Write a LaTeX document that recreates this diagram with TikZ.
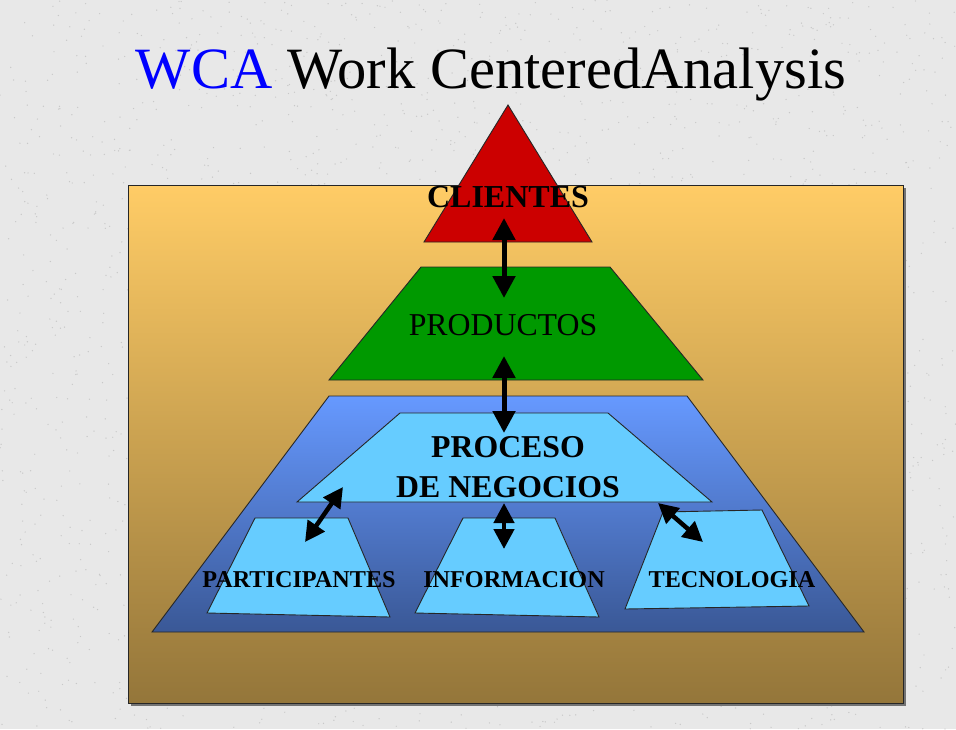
\documentclass[tikz,border=0pt]{standalone}
\usepackage{fontspec}
\setmainfont{Liberation Serif}
\usetikzlibrary{arrows.meta}
\definecolor{bggray}{RGB}{232,232,232}
\definecolor{speck}{RGB}{200,200,200}
\definecolor{orangetop}{RGB}{255,204,102}
\definecolor{orangebot}{RGB}{148,118,58}
\definecolor{bluetop}{RGB}{102,153,255}
\definecolor{bluebot}{RGB}{58,88,150}
\definecolor{lightblue}{RGB}{102,204,255}
\definecolor{redtri}{RGB}{204,0,0}
\definecolor{greentrap}{RGB}{0,153,0}
\definecolor{titleblue}{RGB}{0,0,255}
\begin{document}
\begin{tikzpicture}[x=1pt,y=-1pt,
  outline/.style={draw=black!85,line width=0.9pt},
  bigarrow/.style={line width=5pt,{Triangle[length=22pt,width=22pt]}-{Triangle[length=22pt,width=22pt]}},
  smallarrow/.style={line width=4.5pt,{Triangle[length=20pt,width=20pt]}-{Triangle[length=20pt,width=20pt]}},
  lbl/.style={font=\bfseries\fontsize{24.2}{26}\selectfont,anchor=base,inner sep=0pt},
  boldbig/.style={font=\bfseries\fontsize{31.8}{34}\selectfont,anchor=base,inner sep=0pt},
  biglbl/.style={font=\fontsize{31.8}{34}\selectfont,anchor=base,inner sep=0pt}]
% background
\useasboundingbox (0,0) rectangle (956,729);
\fill[bggray] (0,0) rectangle (956,729);
\pgfmathsetseed{7}
\foreach \i in {1,...,2500}{
  \fill[speck] ({rnd*956},{rnd*729}) circle (0.7);
}
% title
\node[anchor=base,inner sep=0pt,font=\fontsize{58.5}{62}\selectfont] (title) at (491,88)
  {\textcolor{titleblue}{WCA} Work CenteredAnalysis};
% orange panel with shadow
\fill[black!55] (131,188) rectangle (906,706);
\path[outline,top color=orangetop,bottom color=orangebot] (128,185) rectangle (903,703);
% blue base trapezoid
\path[outline,top color=bluetop,bottom color=bluebot]
  (329,396) -- (687,396) -- (864,632) -- (152,632) -- cycle;
% process trapezoid
\path[outline,fill=lightblue]
  (400,413) -- (608,413) -- (712,502) -- (297,502) -- cycle;
% three lower quads
\path[outline,fill=lightblue]
  (255,518) -- (348,518) -- (390,617) -- (207,613) -- cycle;
\path[outline,fill=lightblue]
  (463,518) -- (555,518) -- (599,617) -- (415,613) -- cycle;
\path[outline,fill=lightblue]
  (663,512) -- (762,510) -- (809,606) -- (625,609) -- cycle;
% products trapezoid
\path[outline,fill=greentrap]
  (421,267) -- (610,267) -- (703,380) -- (329,380) -- cycle;
% clients triangle
\path[outline,fill=redtri]
  (508,105) -- (592,242) -- (424,242) -- cycle;
% labels
\node[font=\bfseries\fontsize{32}{34}\selectfont,anchor=base,inner sep=0pt] (clientes) at (508,207) {CLIENTES};
\node[biglbl] (productos) at (503,335) {PRODUCTOS};
\node[boldbig] (proceso) at (508,457) {PROCESO};
\node[boldbig] (negocios) at (508,497) {DE NEGOCIOS};
\node[lbl] (particip) at (299,587) {PARTICIPANTES};
\node[lbl] (informa) at (514,587) {INFORMACION};
\node[lbl] (tecno) at (732,587) {TECNOLOGIA};
% arrow end points
\coordinate (cliEnd) at (504,218);
\coordinate (prodTop) at (504,298);
\coordinate (prodBot) at (504,356);
\coordinate (procTop) at (504,433);
\coordinate (procBot) at (504,503);
\coordinate (infoTop) at (504,549);
\coordinate (procL) at (343,487);
\coordinate (partTop) at (305,542);
\coordinate (procR) at (658,503);
\coordinate (tecTop) at (703,542);
% connectors
\draw[bigarrow] (cliEnd) -- (prodTop);
\draw[bigarrow] (prodBot) -- (procTop);
\draw[smallarrow] (procBot) -- (infoTop);
\draw[smallarrow] (procL) -- (partTop);
\draw[smallarrow] (procR) -- (tecTop);
\end{tikzpicture}
\end{document}
